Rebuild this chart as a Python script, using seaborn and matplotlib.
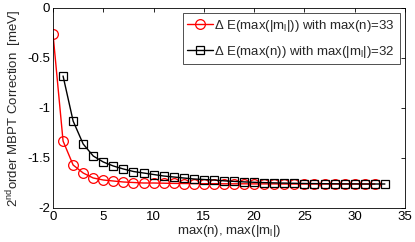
import matplotlib
matplotlib.use("Agg")
import matplotlib.pyplot as plt
import seaborn as sns
import pandas as pd

# red: vary max(|m_l|), max(n)=33
ml_x = list(range(0, 33))
ml_y = [-0.26, -1.33, -1.57, -1.65, -1.70, -1.72, -1.73, -1.74, -1.745, -1.75,
        -1.75, -1.752, -1.754, -1.755, -1.756, -1.757, -1.757, -1.758, -1.758, -1.758,
        -1.759, -1.759, -1.759, -1.76, -1.76, -1.76, -1.76, -1.76, -1.76, -1.76,
        -1.76, -1.76, -1.76]

# black: vary max(n), max(|m_l|)=32
n_x = list(range(1, 34))
n_y = [-0.68, -1.13, -1.36, -1.48, -1.54, -1.58, -1.61, -1.635, -1.65, -1.665,
       -1.68, -1.69, -1.70, -1.71, -1.715, -1.72, -1.728, -1.734, -1.739, -1.743,
       -1.746, -1.749, -1.751, -1.753, -1.755, -1.756, -1.757, -1.758, -1.759, -1.759,
       -1.76, -1.76, -1.76]

label_ml = r"$\Delta$ E(max(|m$_\mathregular{l}$|)) with max(n)=33"
label_n = r"$\Delta$ E(max(n)) with max(|m$_\mathregular{l}$|)=32"

sns.set_style("white")
plt.rcParams["font.family"] = ["Liberation Sans", "DejaVu Sans"]
plt.rcParams["mathtext.fontset"] = "custom"
plt.rcParams["mathtext.rm"] = "Liberation Sans"
plt.rcParams["mathtext.it"] = "Liberation Sans"
plt.rcParams["mathtext.default"] = "regular"

df_ml = pd.DataFrame({"x": ml_x, "y": ml_y})
df_n = pd.DataFrame({"x": n_x, "y": n_y})

fig = plt.figure(figsize=(4.15, 2.42), dpi=100)
ax = fig.add_axes([53 / 415, 1 - 208 / 242, 352 / 415, 200 / 242])

sns.lineplot(data=df_ml, x="x", y="y", ax=ax, color="red", marker="o",
             markersize=7, markerfacecolor="none", markeredgecolor="red",
             markeredgewidth=0.9, linewidth=1.0, label=label_ml)
sns.lineplot(data=df_n, x="x", y="y", ax=ax, color="black", marker="s",
             markersize=5.8, markerfacecolor="none", markeredgecolor="black",
             markeredgewidth=0.9, linewidth=1.0, label=label_n)

ax.set_xlim(0, 35)
ax.set_ylim(-2, 0)
ax.set_xticks(range(0, 36, 5))
ax.set_yticks([0, -0.5, -1, -1.5, -2])
ax.set_yticklabels(["0", "-0.5", "-1", "-1.5", "-2"])
ax.tick_params(direction="in", length=3, width=0.6, labelsize=9.5,
               top=True, right=True, pad=2, colors="black")
for s in ax.spines.values():
    s.set_linewidth(0.6)
    s.set_color("black")

ax.set_xlabel(r"max(n), max(|m$_\mathregular{l}$|)", fontsize=9.5, labelpad=0)
ax.set_ylabel(r"2$^\mathregular{nd}$order MBPT Correction  [meV]", fontsize=9.5, labelpad=2)

leg = ax.legend(loc="upper right", fontsize=9.5, frameon=True, fancybox=False,
                borderaxespad=0.4, handlelength=1.9, handletextpad=0.15,
                borderpad=0.35, labelspacing=0.75)
leg.get_frame().set_edgecolor("black")
leg.get_frame().set_linewidth(0.6)

fig.savefig("out.png", dpi=100)
